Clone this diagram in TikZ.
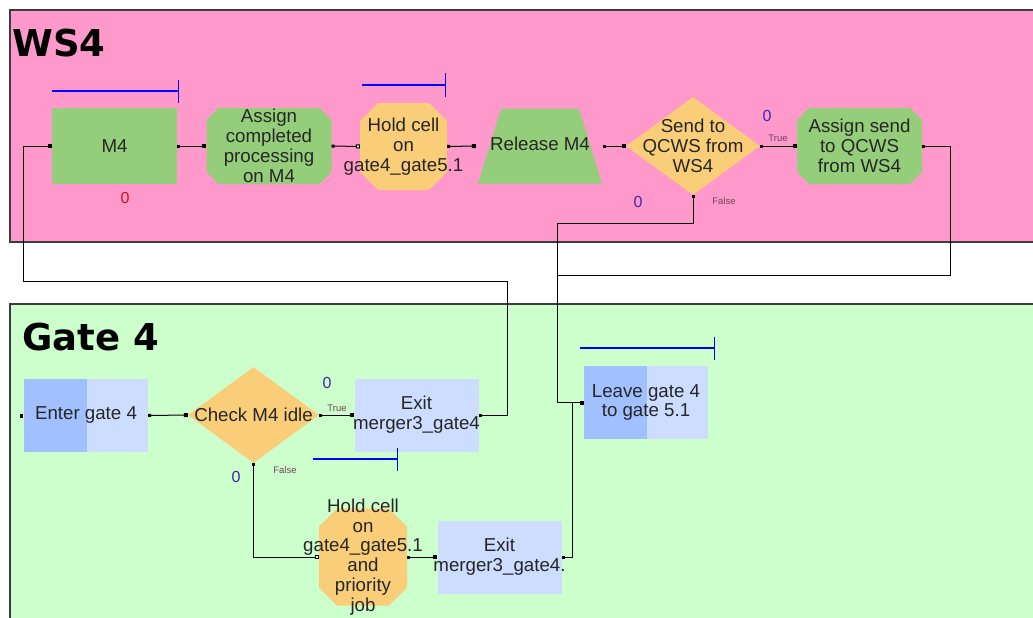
\documentclass[tikz,border=0pt]{standalone}
\usepackage{fontspec}
\setmainfont{Liberation Sans}
\newfontfamily\titlefont{DejaVu Sans}
\usetikzlibrary{shapes.geometric,arrows.meta}

\definecolor{wspink}{RGB}{255,153,204}
\definecolor{gatebg}{RGB}{204,255,204}
\definecolor{procgreen}{RGB}{148,206,122}
\definecolor{holdorange}{RGB}{250,206,120}
\definecolor{exitblue}{RGB}{204,221,255}
\definecolor{enterblue}{RGB}{161,192,255}
\definecolor{lanegray}{RGB}{60,60,60}
\definecolor{cntblue}{RGB}{60,40,170}
\definecolor{cntred}{RGB}{200,20,20}
\definecolor{brtext}{RGB}{110,70,90}

\begin{document}
\begin{tikzpicture}[x=1pt, y=-1pt,
  lane/.style={draw=lanegray, line width=1.2pt},
  title/.style={font=\titlefont\bfseries\fontsize{37}{37}\selectfont, anchor=base west, inner sep=0},
  txt/.style={font=\fontsize{18.7}{19.8}\selectfont, align=center, inner sep=0, text=black!85},
  proc/.style={rectangle, fill=procgreen, minimum width=125, minimum height=76, inner sep=0},
  chamf/.style 2 args={rectangle, inner sep=0, path picture={
    \fill[#2] ([xshift=#1]path picture bounding box.north west) -- ([xshift=-#1]path picture bounding box.north east)
      -- ([yshift=-#1]path picture bounding box.north east) -- ([yshift=#1]path picture bounding box.south east)
      -- ([xshift=-#1]path picture bounding box.south east) -- ([xshift=#1]path picture bounding box.south west)
      -- ([yshift=#1]path picture bounding box.south west) -- ([yshift=-#1]path picture bounding box.north west) -- cycle;}},
  asgn/.style={chamf={12}{procgreen}, minimum width=125, minimum height=76},
  hold/.style={chamf={18}{holdorange}, minimum width=87, minimum height=87},
  rel/.style={rectangle, inner sep=0, minimum width=124, minimum height=75, path picture={
    \fill[procgreen] (path picture bounding box.south west) -- (path picture bounding box.south east)
      -- ([xshift=-23]path picture bounding box.north east) -- ([xshift=23]path picture bounding box.north west) -- cycle;}},
  dec/.style={diamond, fill=holdorange, minimum width=134, minimum height=98, inner sep=0},
  gatebox/.style={rectangle, fill=exitblue, minimum width=124, minimum height=73, inner sep=0},
  entry/.style={gatebox, path picture={\fill[enterblue] (path picture bounding box.south west) rectangle ([xshift=63]path picture bounding box.north west);}},
  cnt/.style={font=\fontsize{16}{16}\selectfont, text=cntblue, inner sep=0},
  br/.style={font=\fontsize{9.5}{9.5}\selectfont, text=brtext, inner sep=0},
  wire/.style={line width=1pt, {Square[length=3pt,width=3pt]}-{Square[length=4pt,width=4pt]}},
  wireh/.style={line width=1pt, {Square[length=3pt,width=3pt]}-{Square[open,fill=white,length=4pt,width=4pt]}},
  loop/.style={line width=1pt, {Square[length=3pt,width=3pt]}-},
  bar/.style={draw=blue, line width=1.2pt, -{Bar[width=23pt]}}
]
\useasboundingbox (0,0) rectangle (1033,618);
% swim lanes
\draw[lane, fill=wspink] (10,10) rectangle (1045,242);
\draw[lane, fill=gatebg] (10,304) rectangle (1045,630);
\node[title] (wst) at (12,57) {WS4};
\node[title] (gt) at (22,350) {Gate 4};

% WS4 row
\node[proc, label={[txt]center:M4}] (m4) at (114.5,146) {};
\node[asgn, label={[txt]center:Assign\\completed\\processing\\on M4}] (acp) at (269,146) {};
\node[hold, label={[txt]center:Hold cell\\on\\gate4\_gate5.1}] (hold1) at (403.5,146.5) {};
\node[rel, label={[txt, yshift=2]center:Release M4}] (rel) at (540,146) {};
\node[dec, label={[txt]center:Send to\\QCWS from\\WS4}] (send) at (693,146) {};
\node[asgn, label={[txt]center:Assign send\\to QCWS\\from WS4}] (asend) at (859.5,146) {};

% Gate 4 row
\node[entry, label={[txt]center:Enter gate 4}] (enter) at (86,415.5) {};
\node[dec, minimum width=131, minimum height=96, label={[txt]center:Check M4 idle}] (check) at (253.5,415) {};
\node[gatebox, label={[txt]center:Exit\\merger3\_gate4}] (exit1) at (416.5,415) {};
\node[hold, minimum width=88, minimum height=97, label={[txt]center:Hold cell\\on\\gate4\_gate5.1\\and\\priority\\job}] (hold2) at (363,557) {};
\node[gatebox, label={[txt]center:Exit\\merger3\_gate4.}] (exit2) at (499.5,557) {};
\node[entry, label={[txt]center:Leave gate 4\\to gate 5.1}] (leave) at (646,402.5) {};

% counters
\node[cnt, text=cntred] (m4c) at (125,198) {0};
\node[cnt] (sendtc) at (767,116) {0};
\node[cnt] (sendfc) at (638,202) {0};
\node[br] (sendt) at (778,138) {True};
\node[br] (sendf) at (724,201) {False};
\node[cnt] (checktc) at (327,383) {0};
\node[cnt] (checkfc) at (236,477) {0};
\node[br] (checkt) at (337,408) {True};
\node[br] (checkf) at (285,470) {False};

% blue bars
\draw[bar] (52,91) -- (179,91);
\draw[bar] (362,85) -- (446,85);
\draw[bar] (313,459) -- (398,459);
\draw[bar] (580,348) -- (715,348);

% connectors
\draw[wire] (m4.east) -- (acp.west);
\draw[wireh] (acp.east) -- (hold1.west);
\draw[wire] (hold1.east) -- ([xshift=-2]rel.west);
\draw[wire] ([xshift=1]rel.east) -- (send.west);
\draw[wire] (send.east) -- (asend.west);
\draw[wire] (send.south) |- (557,223) |- (leave.west);
\draw[loop] (asend.east) -- (950,146) |- (557,275);
\draw[wire] (exit1.east) -- (507,415) |- (23,281) |- (m4.west);
\fill (enter.west) ++(-4,-2) rectangle ++(3,4);
\draw[wire] (enter.east) -- (check.west);
\draw[wire] (check.east) -- (exit1.west);
\draw[wireh] (check.south) |- (hold2.west);
\draw[wire] (hold2.east) -- (exit2.west);
\draw[loop] (exit2.east) -- (572,557) |- (leave.west);
\end{tikzpicture}
\end{document}
